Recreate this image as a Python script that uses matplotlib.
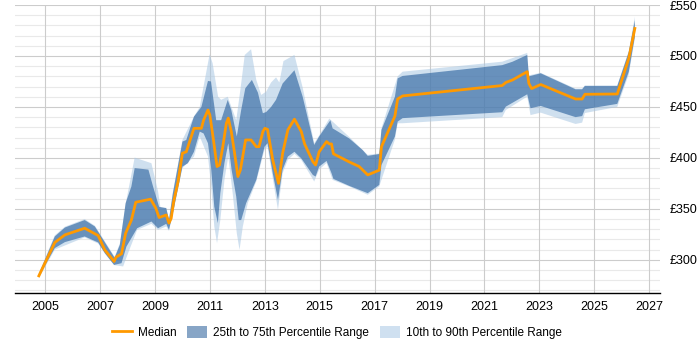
import numpy as np
import matplotlib
matplotlib.use("Agg")
import matplotlib.pyplot as plt
from matplotlib.patches import Patch
from matplotlib.lines import Line2D

# Median salary (year, value)
median_x = [2004.77, 2005.35, 2005.72, 2006.44, 2006.93, 2007.17, 2007.51, 2007.58, 2007.78,
            2007.93, 2008.14, 2008.30, 2008.84, 2009.03, 2009.15, 2009.41, 2009.51, 2009.59,
            2009.68, 2009.84, 2010.00, 2010.14, 2010.42, 2010.69, 2010.77, 2010.93, 2011.00,
            2011.13, 2011.26, 2011.35, 2011.47, 2011.60, 2011.67, 2011.78, 2011.90, 2012.02,
            2012.11, 2012.30, 2012.50, 2012.69, 2012.79, 2012.93, 2013.00, 2013.10, 2013.29,
            2013.50, 2013.65, 2013.84, 2014.08, 2014.33, 2014.45, 2014.75, 2014.85, 2014.98,
            2015.25, 2015.35, 2015.43, 2015.50, 2016.08, 2016.44, 2016.75, 2017.17, 2017.25,
            2017.74, 2017.84, 2018.02, 2021.65, 2021.78, 2022.02, 2022.56, 2022.62, 2022.72,
            2023.05, 2024.32, 2024.56, 2024.66, 2025.84, 2026.26, 2026.48]
median_y = [284.3, 317, 324.5, 331, 323.8, 309.8, 298.4, 302.6, 305.9,
            326, 339, 356.5, 359.5, 350.7, 341.5, 344, 336, 340.7,
            357, 376.8, 404.6, 406, 429, 429, 437, 447, 442,
            417.6, 391.5, 393, 411, 434, 439, 425.8, 404.6, 381.7,
            388, 417.6, 417.6, 411, 411, 425.8, 429, 428, 398,
            375, 404.6, 427.5, 438, 425.8, 413.7, 396.4, 393, 406,
            416, 413.7, 413.7, 404, 396, 391.5, 383.3, 388, 411,
            441, 457.8, 460.8, 471, 474, 476.4, 484.6, 473, 468,
            472, 457.8, 457.8, 462.4, 462.7, 497.7, 527]

# 25th / 75th percentile edges
p75_x = [2004.77, 2005.35, 2005.72, 2006.44, 2006.81, 2006.99, 2007.53, 2007.72, 2007.93,
         2008.14, 2008.26, 2008.76, 2008.93, 2009.15, 2009.41, 2009.51, 2009.65, 2010.00,
         2010.14, 2010.42, 2010.69, 2010.93, 2011.04, 2011.23, 2011.41, 2011.53, 2011.65,
         2011.78, 2011.98, 2012.14, 2012.29, 2012.53, 2012.75, 2012.93, 2013.05, 2013.23,
         2013.41, 2013.65, 2014.08, 2014.38, 2014.80, 2014.98, 2015.39, 2015.47, 2016.08,
         2016.56, 2016.75, 2017.17, 2017.25, 2017.74, 2017.84, 2018.02, 2021.65, 2022.02,
         2022.56, 2022.62, 2023.05, 2024.32, 2024.56, 2024.66, 2025.84, 2026.26, 2026.48]
p75_y = [286, 322.9, 331.7, 339, 332.7, 325, 302, 314.7, 355.6,
         371.9, 390, 388.5, 371.9, 352, 350.7, 339, 365, 416,
         417.6, 440.5, 450, 475.5, 475, 437, 437, 447, 456.9,
         447, 421, 447, 468.3, 476.5, 464, 443.8, 445, 450,
         457, 473, 486, 460, 412.7, 421, 437, 429, 419,
         407.8, 402, 403.8, 427.5, 460, 478, 480.4, 491, 494.3,
         501, 480, 483, 467.3, 467.3, 470.6, 470.6, 504, 535]
p25_x = [2004.77, 2005.35, 2005.72, 2006.44, 2006.93, 2007.17, 2007.51, 2007.78, 2007.96,
         2008.35, 2008.87, 2009.11, 2009.41, 2009.51, 2009.68, 2010.00, 2010.20, 2010.42,
         2010.63, 2010.77, 2010.93, 2011.04, 2011.16, 2011.29, 2011.38, 2011.53, 2011.67,
         2011.79, 2011.96, 2012.05, 2012.14, 2012.32, 2012.69, 2012.99, 2013.10, 2013.29,
         2013.48, 2013.65, 2013.84, 2014.08, 2014.33, 2014.75, 2014.85, 2014.98, 2015.25,
         2015.43, 2015.50, 2016.08, 2016.75, 2017.17, 2017.25, 2017.74, 2017.84, 2018.02,
         2021.65, 2021.78, 2022.56, 2022.68, 2023.05, 2024.32, 2024.56, 2024.66, 2025.84,
         2026.26, 2026.48]
p25_y = [283.7, 311.5, 317.4, 322.9, 317, 306.5, 295, 296.7, 313,
         331, 337.6, 331, 335.3, 329.4, 349, 391.5, 394.8, 406,
         425.8, 424, 414.4, 391.5, 352, 336, 365.4, 395, 414.4,
         388.5, 362, 339, 339, 355.6, 378.4, 411, 414.4, 385,
         358.8, 388.5, 401.3, 406, 399.5, 383.3, 381.7, 391.5, 397,
         385, 379.4, 372.5, 365.4, 373.5, 393, 421, 435.6, 439,
         444.8, 450.3, 462.4, 448.7, 451, 440, 441, 447.7, 453,
         484.6, 519]

# 10th / 90th percentile edges
p90_x = [2004.77, 2005.35, 2005.72, 2006.44, 2006.81, 2006.99, 2007.53, 2007.72, 2007.96,
         2008.26, 2008.87, 2009.11, 2009.20, 2009.41, 2009.51, 2009.65, 2010.00, 2010.42,
         2010.63, 2010.99, 2011.10, 2011.30, 2011.41, 2011.65, 2011.96, 2012.11, 2012.27,
         2012.50, 2012.69, 2012.87, 2013.05, 2013.23, 2013.41, 2013.53, 2013.68, 2014.08,
         2014.38, 2014.80, 2014.98, 2015.35, 2016.08, 2016.75, 2017.17, 2017.25, 2017.84,
         2018.02, 2021.65, 2022.56, 2022.62, 2023.05, 2024.32, 2024.56, 2024.66, 2025.84,
         2026.26, 2026.48]
p90_y = [287, 324, 332.5, 340, 333.5, 326, 303, 316, 358.8,
         400.3, 394.8, 367.4, 351.3, 351, 340, 366, 417.6, 440.5,
         450, 501.7, 492.8, 460, 457, 460, 437, 466.7, 501,
         506.6, 476.5, 461.8, 465, 474, 479, 474, 495, 501,
         469, 414.4, 422, 438.6, 420.5, 403, 404.4, 429, 480,
         484.6, 494.4, 503, 481, 483.5, 468, 468, 471, 471,
         505, 538.5]
p10_x = [2004.77, 2005.35, 2006.44, 2006.93, 2007.51, 2007.84, 2008.02, 2008.35, 2008.87,
         2009.11, 2009.41, 2009.51, 2010.00, 2010.42, 2010.63, 2010.93, 2011.05, 2011.16,
         2011.26, 2011.38, 2011.53, 2011.67, 2011.83, 2011.98, 2012.08, 2012.20, 2012.38,
         2012.69, 2012.99, 2013.10, 2013.48, 2013.65, 2013.84, 2014.08, 2014.33, 2014.80,
         2014.98, 2015.25, 2015.47, 2016.08, 2016.75, 2017.17, 2017.74, 2017.84, 2018.02,
         2021.65, 2021.78, 2022.56, 2022.68, 2023.05, 2024.32, 2024.56, 2024.66, 2025.84,
         2026.26, 2026.48]
p10_y = [282, 310, 322, 316, 294.8, 293.5, 306.5, 329.4, 335.3,
         329.4, 332.7, 328.4, 390, 401.3, 421, 401.3, 371.9, 332.7,
         316.3, 339, 378.4, 401.3, 365.4, 326, 309.8, 332.7, 355.6,
         376.8, 408, 411, 349, 385, 398, 404, 398, 376.8,
         388.5, 395, 378.4, 371.9, 363.8, 372, 418, 434, 434,
         440, 447, 460.1, 442, 444.4, 433.3, 434.6, 444, 450,
         482, 517]

year_ticks = list(range(2005, 2028, 2))
pound_ticks = [300, 350, 400, 450, 500, 550]

plt.rcParams['font.family'] = ['Liberation Sans', 'DejaVu Sans']

fig = plt.figure(figsize=(7, 3.5), dpi=100)
ax = fig.add_axes([0.0214, 0.163, 0.9216, 0.8227])

# background grid
for v in range(270, 551, 10):
    ax.axhline(v, color='#cccccc' if v % 50 == 0 else '#e9e9e9', lw=0.8, zorder=0)
for yr in year_ticks:
    ax.axvline(yr, color='#cccccc', lw=0.8, zorder=0)

# bands drawn as polygons: upper edge then lower edge reversed
ax.fill(np.concatenate([p90_x, p10_x[::-1]]), np.concatenate([p90_y, p10_y[::-1]]),
        color='#a9c7e3', alpha=0.55, lw=0, zorder=1)
ax.fill(np.concatenate([p75_x, p25_x[::-1]]), np.concatenate([p75_y, p25_y[::-1]]),
        color='#3368a2', alpha=0.66, lw=0, zorder=2)
ax.plot(median_x, median_y, color='#ff9900', lw=2, zorder=3)

ax.set_xlim(2003.9, 2027.4)
ax.set_ylim(267.5, 550)
ax.set_xticks(year_ticks)
ax.set_yticks(pound_ticks)
ax.set_yticklabels(['£%d' % v for v in pound_ticks])
ax.yaxis.tick_right()
ax.tick_params(axis='y', length=0, labelsize=9, pad=7)
ax.tick_params(axis='x', length=0, labelsize=9, pad=6)
for s in ['top', 'right', 'left']:
    ax.spines[s].set_visible(False)
ax.spines['bottom'].set_color('#000000')
ax.spines['bottom'].set_linewidth(1)

handles = [Line2D([0], [0], color='#ff9900', lw=2),
           Patch(facecolor='#87a5c6', edgecolor='none'),
           Patch(facecolor='#cfe0f0', edgecolor='none')]
labels = ['Median', '25th to 75th Percentile Range', '10th to 90th Percentile Range']
fig.legend(handles, labels, loc='center', bbox_to_anchor=(0.481, 0.049), ncol=3,
           frameon=False, fontsize=8.5, handlelength=1.7, handleheight=1.2,
           columnspacing=0.9, handletextpad=0.5)

fig.savefig('out.png', dpi=100)
